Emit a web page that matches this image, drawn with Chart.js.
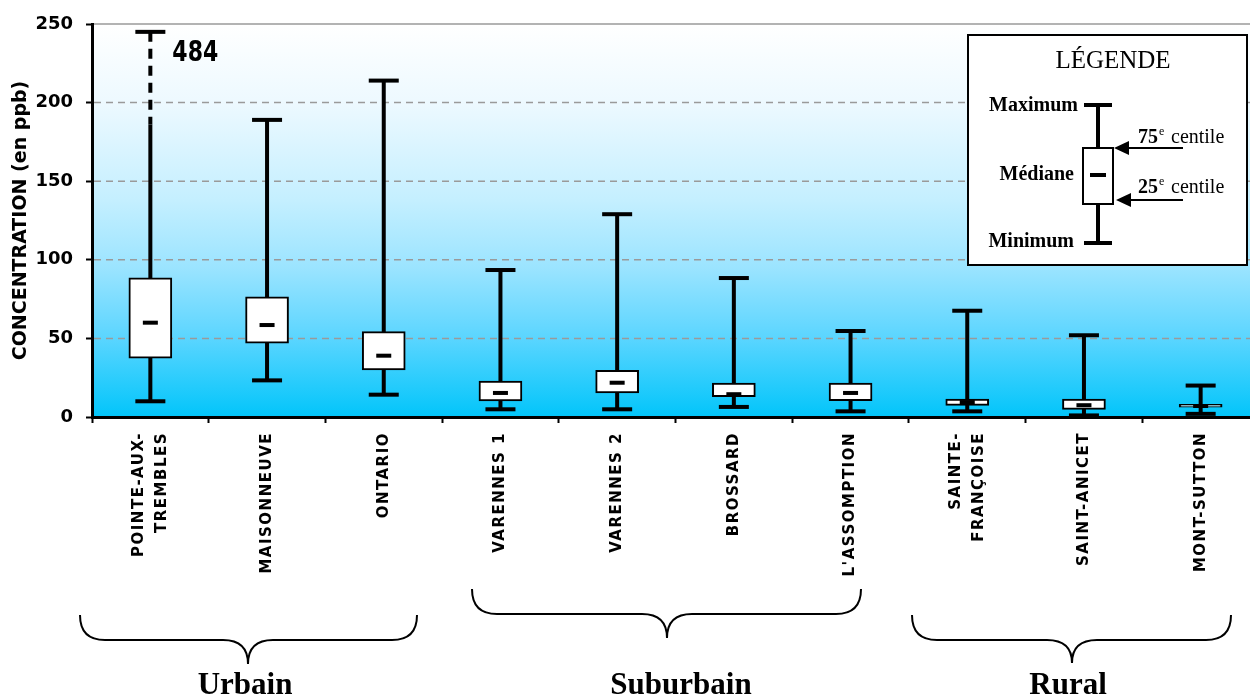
<!DOCTYPE html>
<html>
<head>
<meta charset="utf-8">
<script src="https://cdn.jsdelivr.net/npm/chart.js@4.4.1/dist/chart.umd.min.js"></script>
<style>
  html, body { margin: 0; padding: 0; background: #fff; overflow: hidden; }
</style>
</head>
<body>
<canvas id="chart" width="1260" height="696"></canvas>
<script>
const stations = [
  ["POINTE-AUX-", "TREMBLES"], "MAISONNEUVE", "ONTARIO", "VARENNES 1", "VARENNES 2",
  "BROSSARD", "L'ASSOMPTION", ["SAINTE-", "FRANÇOISE"], "SAINT-ANICET", "MONT-SUTTON"
];
const minimum = [10, 23.3, 14.2, 4.9, 4.9, 6.4, 3.6, 3.6, 1, 2];
const q1 = [37.5, 47, 30, 10.2, 15.3, 12.9, 10.4, 7.4, 4.9, 6.2];
const median = [60, 58.5, 39, 15.3, 21.8, 14.5, 15.3, 9.5, 7.5, 7];
const q3 = [88.5, 76.5, 54.3, 22.9, 29.7, 21.6, 21.6, 11.4, 11.4, 8];
const maximum = [484, 189, 214, 93.5, 129, 88.4, 54.7, 67.6, 52, 20];
const yTicks = [0, 50, 100, 150, 200, 250];
const groups = ["Urbain", "Suburbain", "Rural"];

// off-scale maximum: cap drawn just under the top, dashed part down to here
const offScaleCap = 245;
const offScaleBreak = 186;

const labelFont = "bold 15px 'DejaVu Sans'";

const hline = (ctx, x1, x2, py, w) => {
  ctx.fillRect(x1, py - w / 2, x2 - x1, w);
};

const drawBrace = (ctx, x0, x1, yTop, yMid, xc, yTip) => {
  const r = 25;
  ctx.beginPath();
  ctx.moveTo(x0, yTop);
  ctx.quadraticCurveTo(x0, yMid, x0 + r, yMid);
  ctx.lineTo(xc - r, yMid);
  ctx.quadraticCurveTo(xc, yMid, xc, yTip);
  ctx.quadraticCurveTo(xc, yMid, xc + r, yMid);
  ctx.lineTo(x1 - r, yMid);
  ctx.quadraticCurveTo(x1, yMid, x1, yTop);
  ctx.stroke();
};

const boxPlot = {
  id: "boxPlot",
  beforeDraw(chart) {
    const { ctx, chartArea: a } = chart;
    const g = ctx.createLinearGradient(0, a.top, 0, a.bottom);
    g.addColorStop(0, "#ffffff");
    g.addColorStop(0.2, "#edf9ff");
    g.addColorStop(0.45, "#c4efff");
    g.addColorStop(0.62, "#9be4ff");
    g.addColorStop(0.8, "#5ad5ff");
    g.addColorStop(1, "#02c5fa");
    ctx.fillStyle = g;
    ctx.fillRect(a.left, a.top, a.right - a.left, a.bottom - a.top);
  },
  beforeDatasetsDraw(chart) {
    const { ctx, chartArea: a, scales: { x, y } } = chart;
    ctx.save();
    yTicks.forEach((v) => {
      if (v === 0) return;
      const py = y.getPixelForValue(v);
      ctx.strokeStyle = "#9a9a9a";
      ctx.lineWidth = 1.5;
      ctx.setLineDash(v === y.max ? [] : [7, 5]);
      ctx.beginPath();
      ctx.moveTo(a.left + 2, py);
      ctx.lineTo(a.right, py);
      ctx.stroke();
    });
    ctx.setLineDash([]);

    // whiskers
    ctx.strokeStyle = "#000";
    ctx.lineWidth = 4;
    stations.forEach((s, i) => {
      const px = x.getPixelForValue(i);
      const offScale = maximum[i] > y.max;
      const solidTop = offScale ? offScaleBreak : maximum[i];
      ctx.beginPath();
      ctx.moveTo(px, y.getPixelForValue(minimum[i]));
      ctx.lineTo(px, y.getPixelForValue(solidTop));
      ctx.stroke();
      if (offScale) {
        ctx.setLineDash([10, 7]);
        ctx.beginPath();
        ctx.moveTo(px, y.getPixelForValue(offScaleCap));
        ctx.lineTo(px, y.getPixelForValue(offScaleBreak));
        ctx.stroke();
        ctx.setLineDash([]);
      }
    });
    ctx.restore();
  },
  afterDatasetsDraw(chart) {
    const { ctx, scales: { x, y } } = chart;
    ctx.save();
    ctx.fillStyle = "#000";
    stations.forEach((s, i) => {
      const px = x.getPixelForValue(i);
      const top = maximum[i] > y.max ? offScaleCap : maximum[i];
      hline(ctx, px - 15, px + 15, y.getPixelForValue(top), 4);
      hline(ctx, px - 15, px + 15, y.getPixelForValue(minimum[i]), 4);
      hline(ctx, px - 7.5, px + 7.5, y.getPixelForValue(median[i]), 4);
      if (maximum[i] > y.max) {
        ctx.save();
        ctx.font = "bold 22px 'DejaVu Sans'";
        ctx.textBaseline = "alphabetic";
        ctx.translate(px + 22, y.getPixelForValue(offScaleCap) + 29);
        ctx.scale(1, 1.25);
        ctx.fillText(String(maximum[i]), 0, 0);
        ctx.restore();
      }
    });
    ctx.restore();
  },
  afterDraw(chart) {
    const { ctx, chartArea: a, scales: { x } } = chart;
    ctx.save();
    ctx.fillStyle = "#000";

    // station labels, rotated
    ctx.font = labelFont;
    ctx.letterSpacing = "1.5px";
    ctx.textAlign = "right";
    ctx.textBaseline = "middle";
    stations.forEach((s, i) => {
      const lines = Array.isArray(s) ? s : [s];
      ctx.save();
      ctx.translate(x.getPixelForValue(i), a.bottom + 15);
      ctx.rotate(-Math.PI / 2);
      lines.forEach((line, j) => {
        ctx.fillText(line, 0, (j - (lines.length - 1) / 2) * 23);
      });
      ctx.restore();
    });
    ctx.letterSpacing = "0px";

    // group braces and names
    ctx.strokeStyle = "#000";
    ctx.lineWidth = 2;
    drawBrace(ctx, 80, 417, 615, 640, 248, 664);
    drawBrace(ctx, 472, 861, 589, 614, 667, 638);
    drawBrace(ctx, 912, 1231, 615, 640, 1072, 663);
    ctx.font = "bold 31px 'Liberation Serif'";
    ctx.textAlign = "center";
    ctx.textBaseline = "alphabetic";
    [245, 681, 1068].forEach((cx, k) => ctx.fillText(groups[k], cx, 694));

    // legend box
    const lx = 968, ly = 35, lw = 279, lh = 230;
    ctx.fillStyle = "#fff";
    ctx.fillRect(lx, ly, lw, lh);
    ctx.lineWidth = 2;
    ctx.strokeRect(lx, ly, lw, lh);
    ctx.fillStyle = "#000";
    ctx.font = "25px 'Liberation Serif'";
    ctx.textBaseline = "middle";
    ctx.fillText("LÉGENDE", 1113, 61);

    ctx.lineWidth = 4;
    ctx.beginPath();
    ctx.moveTo(1098, 105);
    ctx.lineTo(1098, 243);
    ctx.stroke();
    hline(ctx, 1084, 1112, 105, 4);
    hline(ctx, 1084, 1112, 243, 4);
    ctx.fillStyle = "#fff";
    ctx.fillRect(1083, 148, 30, 56);
    ctx.lineWidth = 2;
    ctx.strokeRect(1083, 148, 30, 56);
    ctx.fillStyle = "#000";
    hline(ctx, 1090, 1106, 175, 4);

    ctx.font = "bold 20px 'Liberation Serif'";
    ctx.textAlign = "right";
    ctx.fillText("Maximum", 1078, 106);
    ctx.fillText("Médiane", 1074, 175);
    ctx.fillText("Minimum", 1074, 242);

    [[148, 1114], [200, 1116]].forEach(([ay, tip]) => {
      ctx.beginPath();
      ctx.moveTo(1183, ay);
      ctx.lineTo(tip + 10, ay);
      ctx.stroke();
      ctx.beginPath();
      ctx.moveTo(tip, ay);
      ctx.lineTo(tip + 15, ay - 7);
      ctx.lineTo(tip + 15, ay + 7);
      ctx.closePath();
      ctx.fill();
    });

    ctx.textAlign = "left";
    ctx.textBaseline = "alphabetic";
    [["75", 143], ["25", 193]].forEach(([n, base]) => {
      ctx.font = "bold 20px 'Liberation Serif'";
      ctx.fillText(n, 1138, base);
      const w = ctx.measureText(n).width;
      ctx.font = "12px 'Liberation Serif'";
      ctx.fillText("e", 1139 + w, base - 8);
      ctx.font = "20px 'Liberation Serif'";
      ctx.fillText("centile", 1171, base);
    });
    ctx.restore();
  },
};

new Chart(document.getElementById("chart"), {
  type: "bar",
  data: {
    labels: stations,
    datasets: [
      {
        label: "Boîte",
        data: q1.map((v, i) => [v, q3[i]]),
        backgroundColor: "#ffffff",
        borderColor: "#000000",
        borderWidth: 2,
        borderSkipped: false,
        barThickness: 43,
      },
    ],
  },
  options: {
    responsive: false,
    animation: false,
    events: [],
    layout: { padding: { top: 24, right: 1, left: 0, bottom: 0 } },
    plugins: {
      legend: { display: false },
      tooltip: { enabled: false },
    },
    scales: {
      x: {
        ticks: { display: false },
        grid: {
          drawOnChartArea: false,
          color: "#000",
          tickColor: "#000",
          tickLength: 6,
          tickWidth: 2,
        },
        border: { color: "#000", width: 3 },
        afterFit: (scale) => {
          scale.height = 279;
        },
      },
      y: {
        min: 0,
        max: 250,
        afterBuildTicks: (scale) => {
          scale.ticks = yTicks.map((v) => ({ value: v }));
        },
        ticks: {
          color: "#000",
          padding: 13,
          font: { family: "DejaVu Sans", size: 18, weight: "bold" },
        },
        grid: {
          drawOnChartArea: false,
          color: "#000",
          tickColor: "#000",
          tickLength: 6,
          tickWidth: 2,
        },
        border: { color: "#000", width: 3 },
        title: {
          display: true,
          text: "CONCENTRATION (en ppb)",
          color: "#000",
          padding: { top: 10, bottom: 0 },
          font: { family: "DejaVu Sans", size: 19, weight: "bold" },
        },
        afterFit: (scale) => {
          scale.width = 92;
        },
      },
    },
  },
  plugins: [boxPlot],
});
</script>
</body>
</html>
